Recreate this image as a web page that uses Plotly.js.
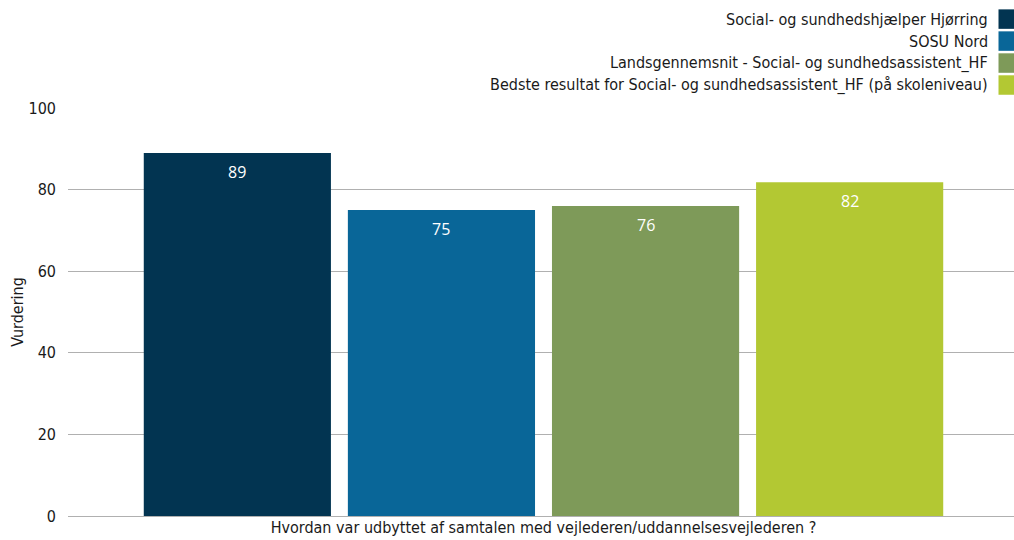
<!DOCTYPE html>
<html>
<head>
<meta charset="utf-8">
<script src="https://cdn.plot.ly/plotly-3.0.1.min.js"></script>
<style>html,body{margin:0;padding:0;background:#fff;}#chart{width:1014px;height:540px;}</style>
</head>
<body>
<div id="chart"></div>
<script>
// ---- data ----
const categories = ["Hvordan var udbyttet af samtalen med vejlederen/uddannelsesvejlederen ?"];
const seriesNames = [
  "Social- og sundhedshjælper Hjørring",
  "SOSU Nord",
  "Landsgennemsnit - Social- og sundhedsassistent_HF",
  "Bedste resultat for Social- og sundhedsassistent_HF (på skoleniveau)"
];
const hjoerring = [89];
const sosuNord = [75];
const landsgennemsnit = [76];
const bedste = [81.8];
const yTickVals = [0, 20, 40, 60, 80, 100];
const yTitle = "Vurdering";

// ---- style ----
const colors = ["#023451", "#096698", "#7e9a59", "#b3c833"];
const fontFam = "'DejaVu Sans Condensed', 'DejaVu Sans', sans-serif";
const txtColor = "#1a1a1a";
const M = {l: 68, r: 0, t: 107.5, b: 24};
const W = 1014, H = 540;
const plotW = W - M.l - M.r, plotH = H - M.t - M.b;
const px2xp = x => (x - M.l) / plotW;
const px2yp = y => (H - M.b - y) / plotH;
const bargap = 0.137, bargroupgap = 0.083;
const xShift = 2.5 / plotW; // category-axis shift (in category units)

const seriesValues = [hjoerring, sosuNord, landsgennemsnit, bedste];
const traces = seriesValues.map((vals, i) => ({
  type: "bar",
  name: seriesNames[i],
  x: categories,
  y: vals,
  marker: {color: colors[i], line: {width: 0}},
  hoverinfo: "none"
}));

// value labels inside bar tops, placed through the axes
const nS = seriesValues.length;
const slot = (1 - bargap) / nS;
const annotations = [];
seriesValues.forEach((vals, i) => {
  vals.forEach((v, j) => {
    annotations.push({
      xref: "x", yref: "y",
      x: j - (1 - bargap) / 2 + slot * (i + 0.5),
      y: v, yanchor: "middle", xanchor: "center", yshift: -19,
      text: String(Math.round(v)), showarrow: false,
      font: {family: "'Open Sans', sans-serif", size: 16, color: "#ffffff"}
    });
  });
});

// manual legend: text right-aligned, swatch on the right
const legendRowsY = [18.5, 40.5, 62.5, 84.5];
seriesNames.forEach((n, i) => annotations.push({
  xref: "paper", yref: "paper",
  x: px2xp(990), y: px2yp(legendRowsY[i]),
  xanchor: "right", yanchor: "middle",
  text: n, showarrow: false,
  font: {family: fontFam, size: 16, color: txtColor}
}));
const shapes = seriesNames.map((n, i) => ({
  type: "rect", xref: "paper", yref: "paper",
  x0: px2xp(998.5), x1: px2xp(1014),
  y0: px2yp(legendRowsY[i] + 9.75), y1: px2yp(legendRowsY[i] - 9.75),
  fillcolor: colors[i], line: {width: 0}
}));

const layout = {
  width: W, height: H,
  margin: M,
  paper_bgcolor: "#ffffff", plot_bgcolor: "#ffffff",
  barmode: "group",
  bargap: bargap,
  bargroupgap: bargroupgap,
  showlegend: false,
  font: {family: fontFam, size: 16, color: txtColor},
  xaxis: {
    type: "category",
    range: [-0.5 - xShift, 0.5 - xShift],
    showgrid: false, showline: false, zeroline: false,
    ticks: "", tickfont: {family: fontFam, size: 16, color: txtColor},
    fixedrange: true
  },
  yaxis: {
    range: [0, 100],
    tickvals: yTickVals,
    ticks: "",
    ticklabelstandoff: 11,
    showgrid: true, gridcolor: "#b0b0b0", gridwidth: 1,
    zeroline: true, zerolinecolor: "#b0b0b0", zerolinewidth: 1,
    showline: false,
    tickfont: {family: fontFam, size: 16, color: txtColor},
    title: {text: yTitle, font: {family: fontFam, size: 16, color: txtColor}, standoff: 0},
    fixedrange: true
  },
  annotations: annotations,
  shapes: shapes
};

Plotly.newPlot("chart", traces, layout, {displayModeBar: false, staticPlot: true});
</script>
</body>
</html>
